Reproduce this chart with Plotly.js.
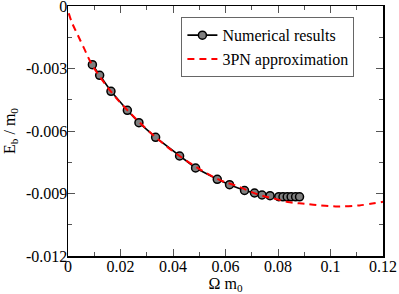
<!DOCTYPE html>
<html>
<head>
<meta charset="utf-8">
<script src="https://cdn.plot.ly/plotly-3.0.1.min.js"></script>
<style>html,body{margin:0;padding:0;background:#fff;}#chart{width:399px;height:294px;}</style>
</head>
<body>
<div id="chart"></div>
<script>
// Numerical results
const numOmega = [0.00929, 0.01206, 0.01637, 0.02261, 0.02702, 0.03338, 0.04251, 0.0486, 0.05686, 0.06154, 0.06725, 0.07106, 0.07391, 0.07696, 0.0803, 0.0819, 0.0835, 0.0850, 0.0867, 0.0882];
const numEb = [-0.002818, -0.003326, -0.004094, -0.005006, -0.005602, -0.006302, -0.0072, -0.007776, -0.008318, -0.008578, -0.008856, -0.008976, -0.009072, -0.009106, -0.009154, -0.009158, -0.00916, -0.00916, -0.00916, -0.00916];
// 3PN approximation
const pnOmega = [0.0003, 0.0015, 0.0034, 0.006, 0.0093, 0.0163, 0.0226, 0.0334, 0.0425, 0.0569, 0.065, 0.072, 0.078, 0.0845, 0.09, 0.095, 0.102, 0.111, 0.12];
const pnEb = [-0.00035, -0.0008, -0.00131, -0.0020, -0.00285, -0.0041, -0.0050, -0.0063, -0.0072, -0.0083, -0.00867, -0.00903, -0.00923, -0.00942, -0.00949, -0.00956, -0.00962, -0.00957, -0.0094];

const xTicks = [0, 0.02, 0.04, 0.06, 0.08, 0.1, 0.12];
const xTickText = ['0', '0.02', '0.04', '0.06', '0.08', '0.1', '0.12'];
const yTicks = [0, -0.003, -0.006, -0.009, -0.012];
const yTickText = ['0', '-0.003', '-0.006', '-0.009', '-0.012'];

const FAMILY = "Liberation Serif";
const font = {family: FAMILY, size: 16, color: '#000'};

const traces = [
  {
    x: numOmega, y: numEb, name: 'Numerical results', type: 'scatter', mode: 'lines+markers',
    line: {color: '#000', width: 1.6},
    marker: {symbol: 'circle', size: 8, color: '#7f7f7f', line: {color: '#000', width: 1.5}}
  },
  {
    x: pnOmega, y: pnEb, name: '3PN approximation', type: 'scatter', mode: 'lines',
    line: {color: '#ff0000', width: 2, dash: '7px,5px', shape: 'spline', smoothing: 1}
  }
];

const axisCommon = {
  showgrid: false, zeroline: false, showline: true, linecolor: '#000', linewidth: 1.5,
  mirror: 'ticks', ticks: 'inside', ticklen: 7, tickwidth: 1, tickcolor: '#555',
  tickfont: font, ticklabeloverflow: 'allow'
};

const layout = {
  width: 399, height: 294,
  margin: {l: 68, r: 16, t: 6, b: 38},
  paper_bgcolor: '#fff', plot_bgcolor: '#fff',
  font: font,
  showlegend: true,
  legend: {
    x: 0.36, y: 0.955, xanchor: 'left', yanchor: 'top',
    bgcolor: '#fff', bordercolor: '#666', borderwidth: 1,
    font: {family: FAMILY, size: 16, color: '#000'}, tracegroupgap: 0, itemwidth: 30
  },
  xaxis: Object.assign({}, axisCommon, {
    range: [0, 0.12], tickvals: xTicks, ticktext: xTickText, ticklabelstandoff: -5,
    minor: {ticks: 'inside', dtick: 0.01, ticklen: 4, tickcolor: '#555'},
    title: {text: 'Ω m<sub>0</sub>', font: font, standoff: 4}
  }),
  yaxis: Object.assign({}, axisCommon, {
    range: [-0.012, 0], tickvals: yTicks, ticktext: yTickText, ticklabelstandoff: -4,
    minor: {ticks: 'inside', dtick: 0.0015, ticklen: 4, tickcolor: '#555'},
    title: {text: 'E<sub>b</sub> / m<sub>0</sub>', font: font, standoff: 6}
  })
};

Plotly.newPlot('chart', traces, layout, {displayModeBar: false, staticPlot: true});
</script>
</body>
</html>
